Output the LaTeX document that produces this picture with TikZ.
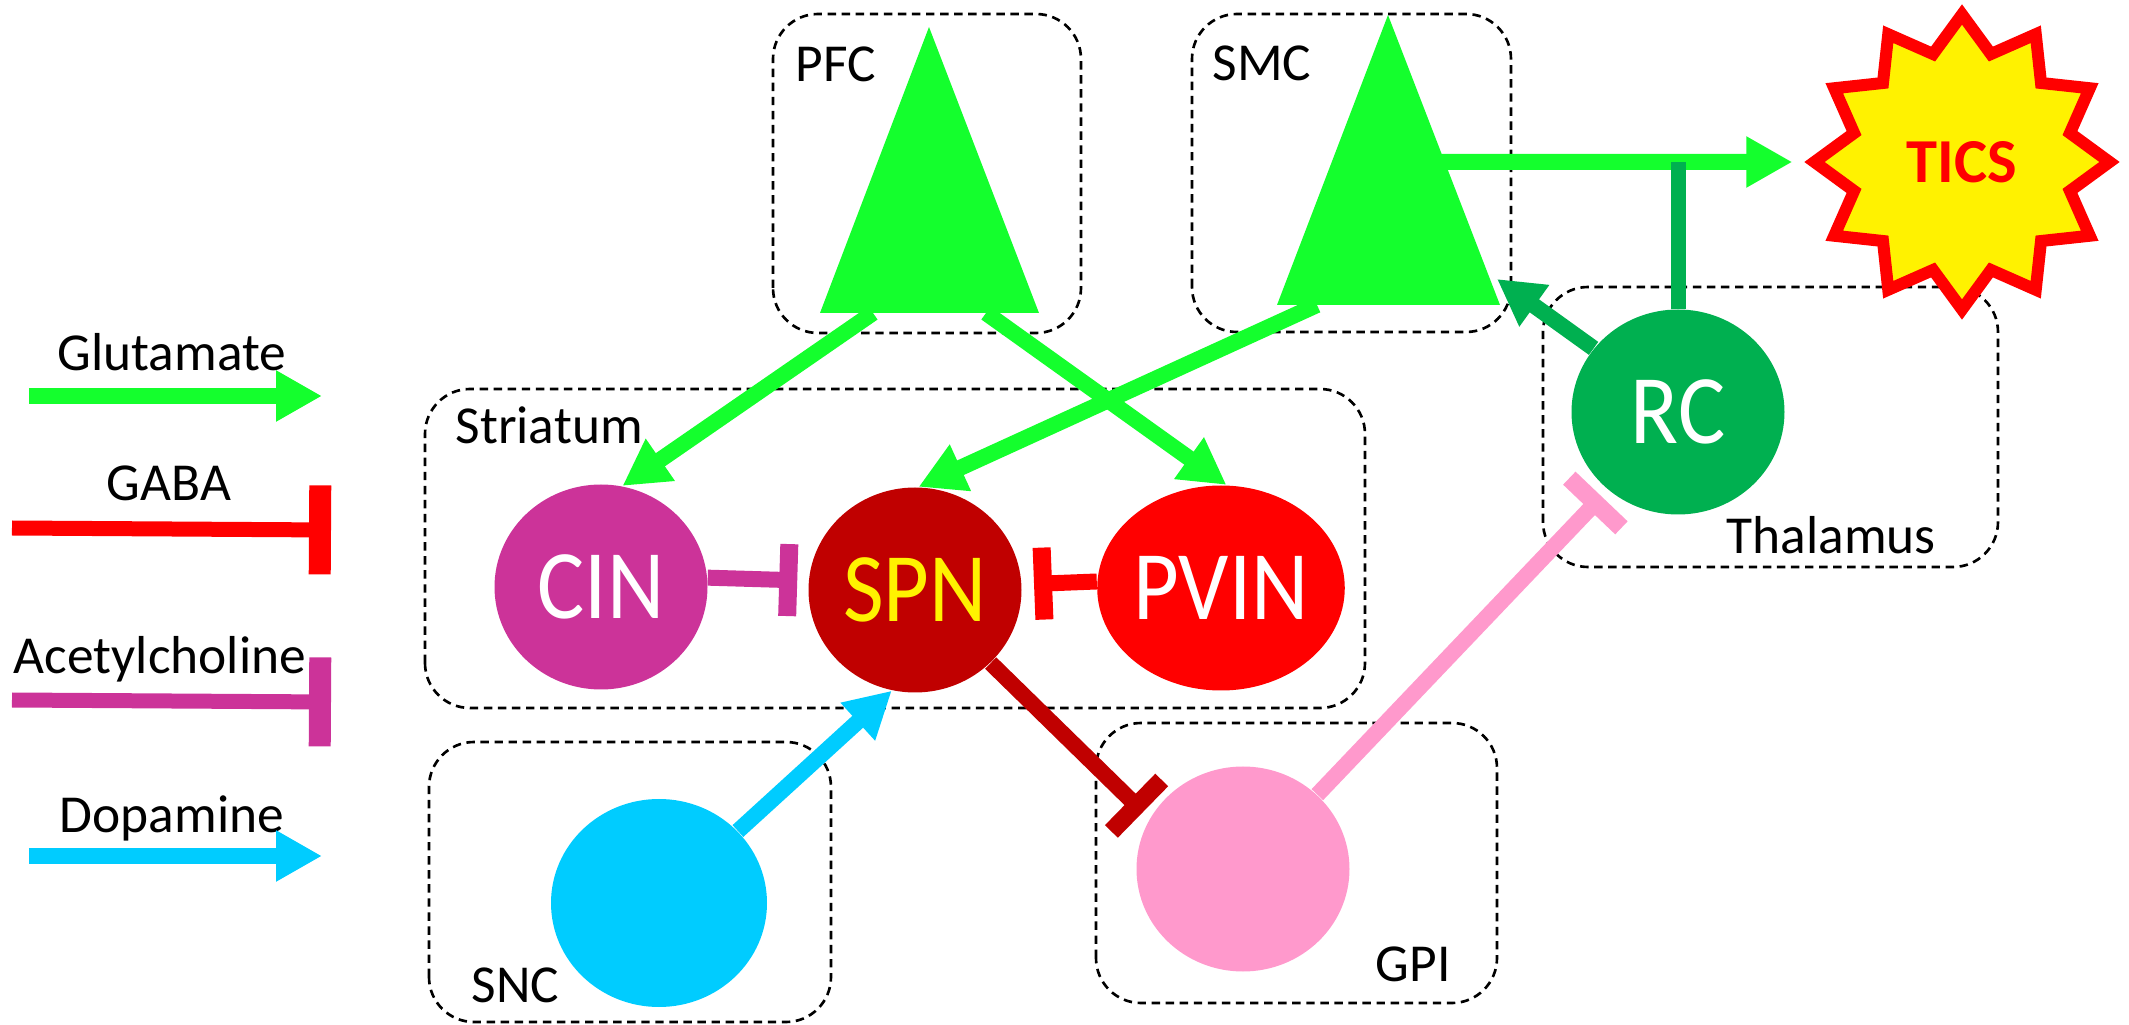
\documentclass[tikz,border=0pt]{standalone}
\usepackage{fontspec}
\setmainfont{Carlito}
\newfontfamily\cellfont[FakeStretch=0.9]{Carlito}
\usetikzlibrary{arrows.meta,shapes.geometric}
\definecolor{glucol}{RGB}{20,255,45}
\definecolor{rccol}{RGB}{0,176,80}
\definecolor{cincol}{RGB}{204,51,153}
\definecolor{spncol}{RGB}{192,0,0}
\definecolor{dopcol}{RGB}{0,204,255}
\definecolor{gpicol}{RGB}{255,153,204}
\begin{document}
\begin{tikzpicture}[
  cell/.style={ellipse, minimum width=2.13cm, minimum height=2.05cm, inner sep=0pt,
    text=white, font=\cellfont\fontsize{28}{30}\selectfont},
  region/.style={draw, line width=0.75pt, dash pattern=on 2.4pt off 1.6pt, rounded corners=0.45cm},
  tag/.style={font=\fontsize{15.2}{18}\selectfont, inner sep=0pt},
  excite/.style={line width=0.16cm, -{Triangle[length=0.46cm,width=0.48cm]}},
  inhibit/.style={line width=0.16cm, -{Bar[width=0.72cm,line width=0.18cm]}},
  legbar/.style={line width=0.15cm, -{Bar[width=0.89cm,line width=0.22cm]}}
]
\useasboundingbox (0,0) rectangle (21.29cm, 10.24cm);
%regions
\draw[region] (7.73cm, 6.91cm) rectangle (10.81cm, 10.10cm);
\draw[region] (11.92cm, 6.92cm) rectangle (15.11cm, 10.10cm);
\draw[region] (4.25cm, 3.16cm) rectangle (13.65cm, 6.35cm);
\draw[region] (4.29cm, 0.02cm) rectangle (8.31cm, 2.82cm);
\draw[region] (10.96cm, 0.21cm) rectangle (14.97cm, 3.01cm);
\draw[region] (15.43cm, 4.57cm) rectangle (19.98cm, 7.37cm);
\node[tag, anchor=base west] (pfctag) at (7.95cm, 9.42cm) {PFC};
\node[tag, anchor=base west] (smctag) at (12.12cm, 9.43cm) {SMC};
\node[tag, anchor=base west] (strtag) at (4.55cm, 5.80cm) {Striatum};
\node[tag, anchor=base west] (thaltag) at (17.26cm, 4.70cm) {Thalamus};
\node[tag, anchor=base west] (snctag) at (4.71cm, 0.22cm) {SNC};
\node[tag, anchor=base west] (gpitag) at (13.75cm, 0.42cm) {GPI};
%cortex
\fill[glucol] (9.29cm, 9.97cm) -- (10.39cm, 7.11cm) -- (8.20cm, 7.11cm) -- cycle;
\fill[glucol] (13.88cm, 10.09cm) -- (15.00cm, 7.19cm) -- (12.77cm, 7.19cm) -- cycle;
\coordinate (pfcL) at (8.73cm, 7.11cm);
\coordinate (pfcR) at (9.86cm, 7.11cm);
\coordinate (smcL) at (13.17cm, 7.19cm);
\coordinate (smcR) at (14.42cm, 8.62cm);
\coordinate (smcin) at (14.97cm, 7.45cm);
\coordinate (gpiin) at (11.43cm, 2.12cm);
%cells
\node[cell, fill=cincol] (cin) at (6.01cm, 4.37cm) {CIN};
\node[cell, fill=spncol, text=yellow] (spn) at (9.15cm, 4.34cm) {SPN};
\node[cell, fill=red] (pvin) at (12.21cm, 4.36cm) {PVIN};
\node[cell, fill=rccol] (rc) at (16.78cm, 6.12cm) {RC};
\node[cell, fill=dopcol, minimum width=2.16cm, minimum height=2.08cm] (snc) at (6.59cm, 1.21cm) {};
\node[cell, fill=gpicol] (gpi) at (12.43cm, 1.55cm) {};
\node[star, star points=12, star point ratio=1.32, minimum size=2.95cm, inner sep=0pt,
  fill=yellow, draw=red, line width=0.12cm, text=red,
  font=\bfseries\fontsize{17.8}{20}\selectfont] (tics) at (19.62cm, 8.62cm) {TICS};
%glutamate
\draw[excite, glucol] (pfcL) -- (cin.78);
\draw[excite, glucol] (pfcR) -- (pvin.87);
\draw[excite, glucol] (smcL) -- (spn.88);
\draw[excite, glucol, shorten >=0.12cm] (smcR) -- (tics.west);
\draw[rccol, line width=0.15cm] (rc.north) -- (rc.north |- smcR);
\draw[excite, rccol] (rc.143) -- (smcin);
%dopamine
\draw[excite, dopcol] (snc) -- (spn.-103);
%gaba and acetylcholine
\draw[inhibit, cincol, shorten >=0.11cm] (cin.5) -- (spn.175);
\draw[inhibit, red, shorten >=0.12cm] (pvin.177) -- (spn.3);
\draw[inhibit, spncol] (spn.-44) -- (gpiin);
\draw[inhibit, gpicol, shorten >=0.09cm] (gpi.45) -- (rc.228);
%legend
\node[tag, anchor=base] (gluleg) at (1.72cm, 6.53cm) {Glutamate};
\node[tag, anchor=base] (gabaleg) at (1.69cm, 5.23cm) {GABA};
\node[tag, anchor=base] (achleg) at (1.60cm, 3.51cm) {Acetylcholine};
\node[tag, anchor=base] (dopleg) at (1.72cm, 1.91cm) {Dopamine};
\coordinate (gluA) at (0.29cm, 6.28cm);
\coordinate (gluB) at (3.22cm, 6.28cm);
\coordinate (gabaA) at (0.12cm, 4.96cm);
\coordinate (gabaB) at (3.31cm, 4.94cm);
\coordinate (achA) at (0.12cm, 3.24cm);
\coordinate (achB) at (3.31cm, 3.22cm);
\coordinate (dopA) at (0.29cm, 1.68cm);
\coordinate (dopB) at (3.22cm, 1.68cm);
\draw[excite, glucol] (gluA) -- (gluB);
\draw[legbar, red] (gabaA) -- (gabaB);
\draw[legbar, cincol] (achA) -- (achB);
\draw[excite, dopcol] (dopA) -- (dopB);
\end{tikzpicture}
\end{document}
